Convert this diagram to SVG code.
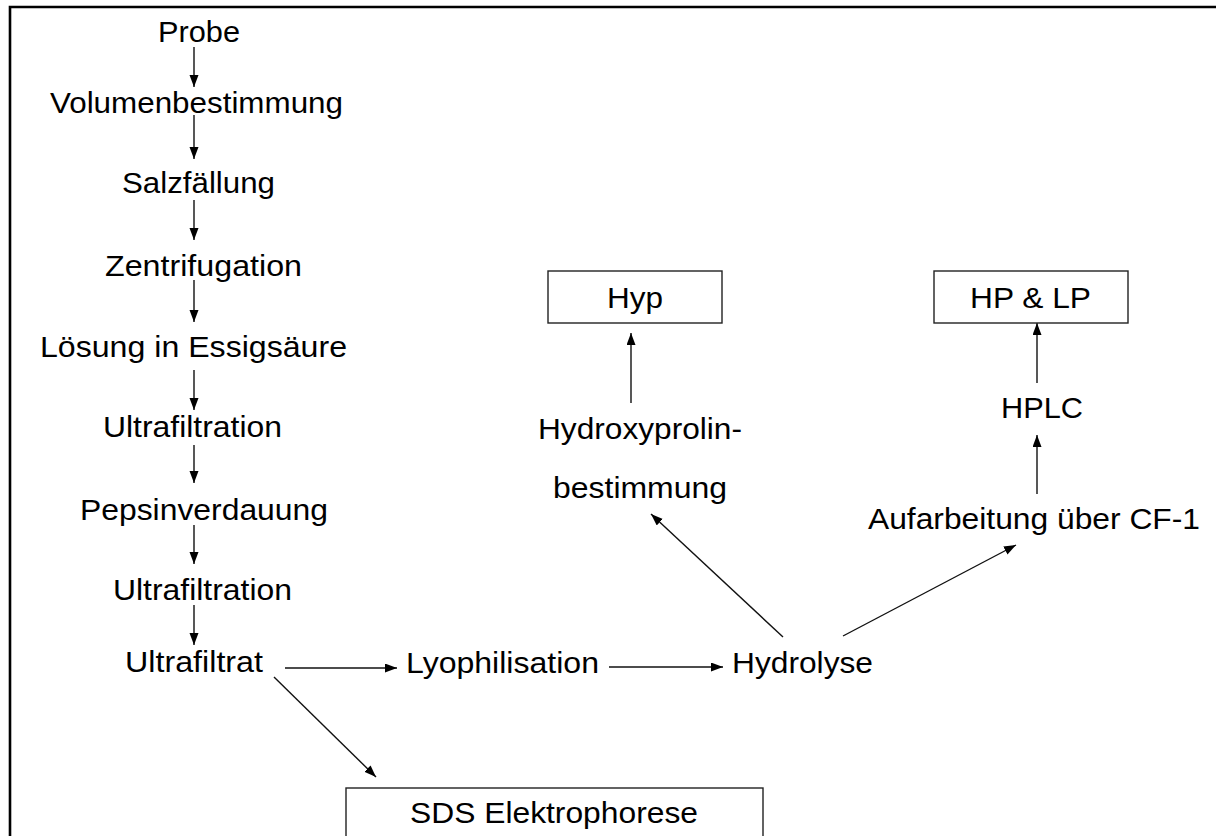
<svg xmlns="http://www.w3.org/2000/svg" width="1216" height="836" viewBox="0 0 1216 836">
<style>
text{font-family:"Liberation Sans",Arial,sans-serif;font-size:29px;fill:#000;}
.box{fill:#fff;stroke:#222;stroke-width:1.4;}
.c{stroke:#111;stroke-width:1.4;fill:none;marker-end:url(#ah);}
.frame{stroke:#000;stroke-width:2.6;fill:none;}
</style>
<defs>
<marker id="ah" markerUnits="userSpaceOnUse" markerWidth="13" markerHeight="10" refX="12" refY="4.5" orient="auto">
<path d="M0,0 L12,4.5 L0,9 z" fill="#000"/>
</marker>
</defs>
<rect width="1216" height="836" fill="#fff"/>
<path class="frame" d="M10,836 L10,7 L1216,7"/>
<g id="connectors">
<line class="c" x1="194" y1="47" x2="194" y2="87"/>
<line class="c" x1="194" y1="115" x2="194" y2="159"/>
<line class="c" x1="194" y1="200" x2="194" y2="240"/>
<line class="c" x1="194" y1="280" x2="194" y2="322"/>
<line class="c" x1="194" y1="370" x2="194" y2="410"/>
<line class="c" x1="194" y1="445" x2="194" y2="483"/>
<line class="c" x1="194" y1="525" x2="194" y2="564"/>
<line class="c" x1="194" y1="605" x2="194" y2="645"/>
<line class="c" x1="285" y1="668" x2="397" y2="668"/>
<line class="c" x1="609" y1="667" x2="723" y2="667"/>
<line class="c" x1="274" y1="677" x2="376" y2="777"/>
<line class="c" x1="783" y1="637" x2="651" y2="514"/>
<line class="c" x1="843" y1="636" x2="1016" y2="545"/>
<line class="c" x1="631" y1="403" x2="631" y2="333"/>
<line class="c" x1="1037" y1="383" x2="1037" y2="323"/>
<line class="c" x1="1037" y1="494" x2="1037" y2="435"/>
</g>
<g id="probe"><text x="158" y="42" textLength="82" lengthAdjust="spacingAndGlyphs">Probe</text></g>
<g id="volumen"><text x="50" y="113" textLength="293" lengthAdjust="spacingAndGlyphs">Volumenbestimmung</text></g>
<g id="salz"><text x="122" y="193" textLength="153" lengthAdjust="spacingAndGlyphs">Salzfällung</text></g>
<g id="zentri"><text x="105" y="276" textLength="197" lengthAdjust="spacingAndGlyphs">Zentrifugation</text></g>
<g id="loesung"><text x="40" y="357" textLength="307" lengthAdjust="spacingAndGlyphs">Lösung in Essigsäure</text></g>
<g id="ultra1"><text x="103" y="437" textLength="179" lengthAdjust="spacingAndGlyphs">Ultrafiltration</text></g>
<g id="pepsin"><text x="80" y="520" textLength="248" lengthAdjust="spacingAndGlyphs">Pepsinverdauung</text></g>
<g id="ultra2"><text x="113" y="600" textLength="179" lengthAdjust="spacingAndGlyphs">Ultrafiltration</text></g>
<g id="ultrafiltrat"><text x="125" y="672" textLength="138" lengthAdjust="spacingAndGlyphs">Ultrafiltrat</text></g>
<g id="lyo"><text x="406" y="673" textLength="193" lengthAdjust="spacingAndGlyphs">Lyophilisation</text></g>
<g id="hydrolyse"><text x="732" y="673" textLength="141" lengthAdjust="spacingAndGlyphs">Hydrolyse</text></g>
<g id="hydroxy"><text x="538" y="439" textLength="204" lengthAdjust="spacingAndGlyphs">Hydroxyprolin-</text><text x="553" y="498" textLength="174" lengthAdjust="spacingAndGlyphs">bestimmung</text></g>
<g id="hyp"><rect class="box" x="548" y="271" width="174" height="52"/><text x="607" y="308" textLength="56" lengthAdjust="spacingAndGlyphs">Hyp</text></g>
<g id="auf"><text x="868" y="529" textLength="332" lengthAdjust="spacingAndGlyphs">Aufarbeitung über CF-1</text></g>
<g id="hplc"><text x="1001" y="418" textLength="82" lengthAdjust="spacingAndGlyphs">HPLC</text></g>
<g id="hplp"><rect class="box" x="934" y="271" width="194" height="52"/><text x="970" y="308" textLength="121" lengthAdjust="spacingAndGlyphs">HP &amp; LP</text></g>
<g id="sds"><rect class="box" x="346" y="788" width="417" height="60"/><text x="410" y="823" textLength="288" lengthAdjust="spacingAndGlyphs">SDS Elektrophorese</text></g>
</svg>
